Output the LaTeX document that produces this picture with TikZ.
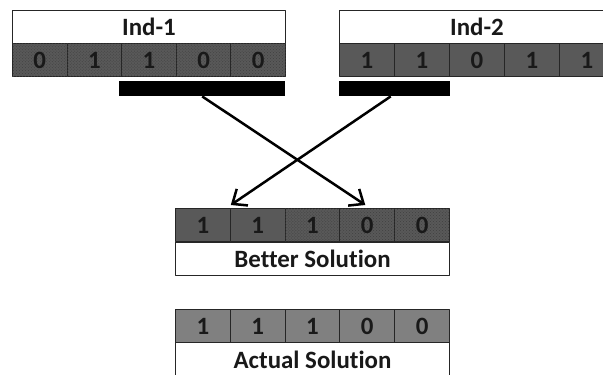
\documentclass[tikz,border=0pt]{standalone}
\usepackage{fontspec}
\setmainfont{Carlito}[Ligatures=NoCommon]
\usetikzlibrary{calc,patterns,arrows.meta}
\definecolor{cellgray}{HTML}{595959}
\definecolor{lightgray}{HTML}{808080}
\tikzset{
  cell/.style={draw=black!85,line width=1bp,fill=cellgray,minimum width=54.8bp,minimum height=33bp,inner sep=0pt,anchor=north west,text=black!90},
  dotcell/.style={cell,postaction={pattern=crosshatch dots,pattern color=black!75}},
  lightcell/.style={cell,fill=lightgray},
  titlebox/.style={draw=black!85,line width=1bp,fill=white,minimum width=274bp,minimum height=33bp,inner sep=0pt,anchor=north west,text=black!90},
  cutbar/.style={fill=black,minimum height=15bp,inner sep=0pt,anchor=north west},
}
\begin{document}
\begin{tikzpicture}[x=1bp,y=-1bp,line join=round,font=\fontsize{25}{25}\selectfont\bfseries]
\useasboundingbox (0,0) rectangle (603,374);
\clip (0,0) rectangle (603,374);
\def\cw{54.6}
% Ind-1
\node[titlebox,minimum width=273bp] (t1) at (12,10) {Ind-1};
\foreach \v [count=\i] in {0,1,1,0,0}{\node[dotcell,minimum width=\cw bp] (a\i) at ({12+(\i-1)*\cw},43) {\v};}
% Ind-2
\node[titlebox,minimum width=275bp] (t2) at (339,10) {Ind-2};
\foreach \v [count=\i] in {1,1,0,1,1}{\node[cell,minimum width=55bp] (b\i) at ({339+(\i-1)*55},43) {\v};}
% cut segments
\node[cutbar,minimum width=166bp] (bar1) at (119,81) {};
\node[cutbar,minimum width=111bp] (bar2) at (339,81) {};
% better solution
\foreach \v/\s [count=\i] in {1/cell,1/cell,1/dotcell,0/dotcell,0/dotcell}{\node[\s] (c\i) at ({175+(\i-1)*54.8},208) {\v};}
\node[titlebox,minimum height=33bp] (t3) at (175,242) {Better Solution};
% actual solution
\foreach \v [count=\i] in {1,1,1,0,0}{\node[lightcell] (d\i) at ({175+(\i-1)*54.8},309) {\v};}
\node[titlebox,minimum height=34bp] (t4) at (175,342) {Actual Solution};
% crossing arrows
\coordinate (e1) at ($(c4.north)+(-2,-3)$);
\coordinate (e2) at ($(c2.north west)+(1,-3)$);
\draw[-{Straight Barb[length=12bp,width=20bp]},line width=2.5bp] (bar1.south) -- (e1);
\draw[-{Straight Barb[length=12bp,width=20bp]},line width=2.5bp] ($(bar2.south)+(-4,0)$) -- (e2);
\end{tikzpicture}
\end{document}
